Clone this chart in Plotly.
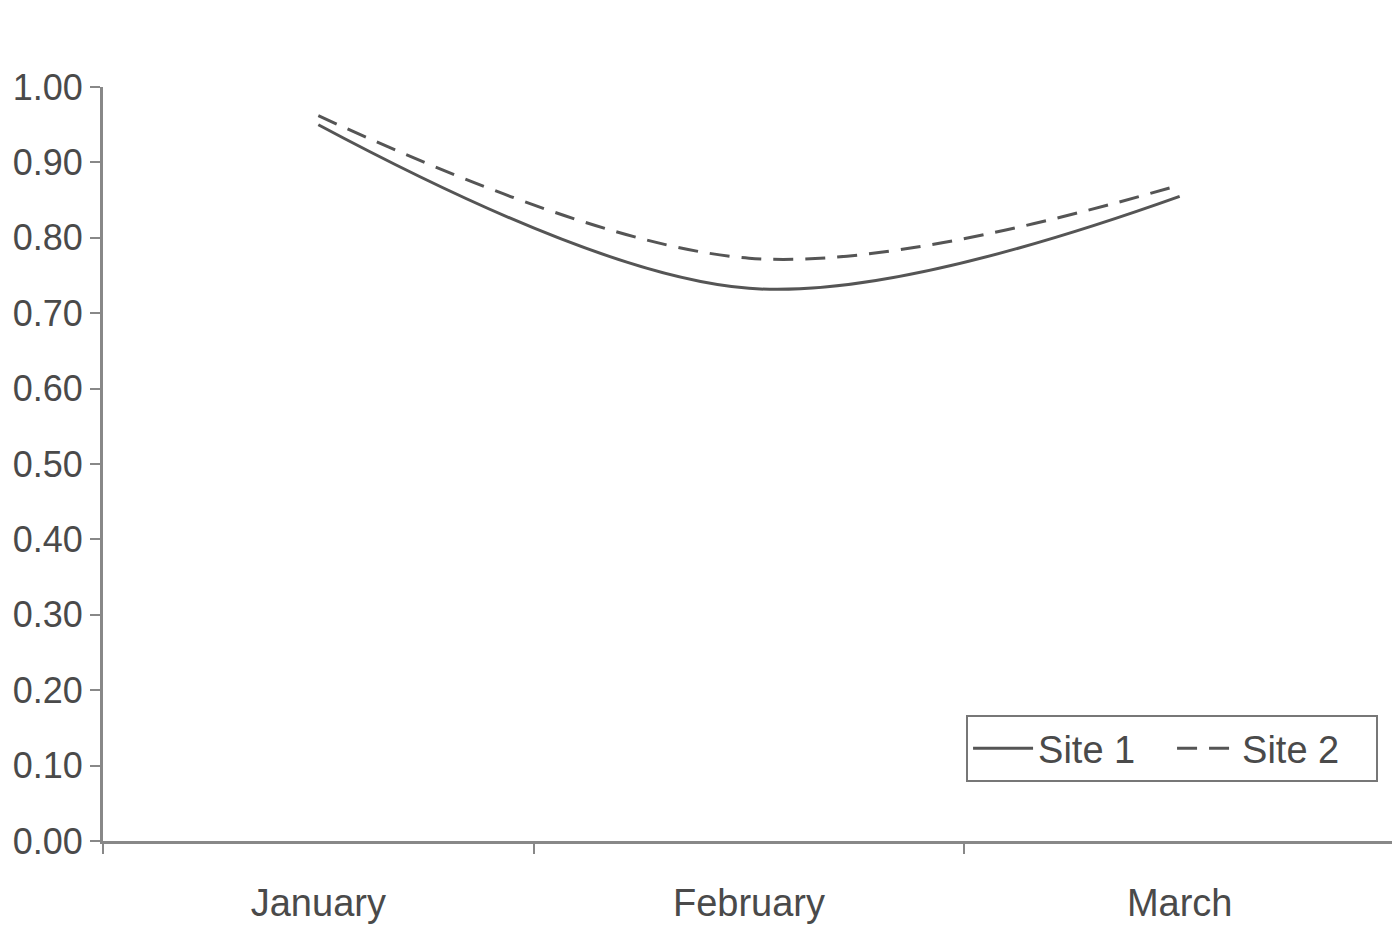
import plotly.graph_objects as go

months = ["January", "February", "March"]
site1 = [0.95, 0.733, 0.855]
site2 = [0.962, 0.773, 0.870]
y_ticks = [0.0, 0.1, 0.2, 0.3, 0.4, 0.5, 0.6, 0.7, 0.8, 0.9, 1.0]

fig = go.Figure()
fig.add_trace(go.Scatter(x=months, y=site1, name="Site 1", mode="lines",
                         line=dict(color="#555555", width=3, shape="spline", smoothing=1.0)))
fig.add_trace(go.Scatter(x=months, y=site2, name="Site 2", mode="lines",
                         line=dict(color="#555555", width=3, dash="20px,12px", shape="spline", smoothing=1.0)))

fig.update_layout(
    width=1400, height=927,
    paper_bgcolor="white", plot_bgcolor="white",
    margin=dict(l=95, r=13, t=79, b=94, autoexpand=False),
    font=dict(family="Liberation Sans, Arial, sans-serif", size=36, color="#4a4a4a"),
    showlegend=True,
    legend=dict(orientation="h", x=0.668, y=0.167, xanchor="left", yanchor="top",
                bordercolor="#777777", borderwidth=2, bgcolor="white",
                font=dict(size=38, color="#4a4a4a"), itemwidth=60, tracegroupgap=0,
                entrywidth=129, entrywidthmode="pixels"),
)
fig.update_xaxes(type="category", range=[-0.5, 2.5], tickson="boundaries",
                 ticks="outside", ticklen=10, tickwidth=2, tickcolor="#888888",
                 showline=True, linecolor="#888888", linewidth=3, showgrid=False,
                 zeroline=False, ticklabelstandoff=26, automargin=False,
                 tickfont=dict(size=38, color="#4a4a4a"))
fig.update_yaxes(range=[0, 1.0], tickvals=y_ticks, tickformat=".2f",
                 ticks="outside", ticklen=10, tickwidth=2, tickcolor="#888888",
                 showline=True, linecolor="#888888", linewidth=3, showgrid=False,
                 zeroline=False, ticklabelstandoff=0, automargin=False,
                 tickfont=dict(size=36, color="#4a4a4a"))

fig.write_html("out.html")
